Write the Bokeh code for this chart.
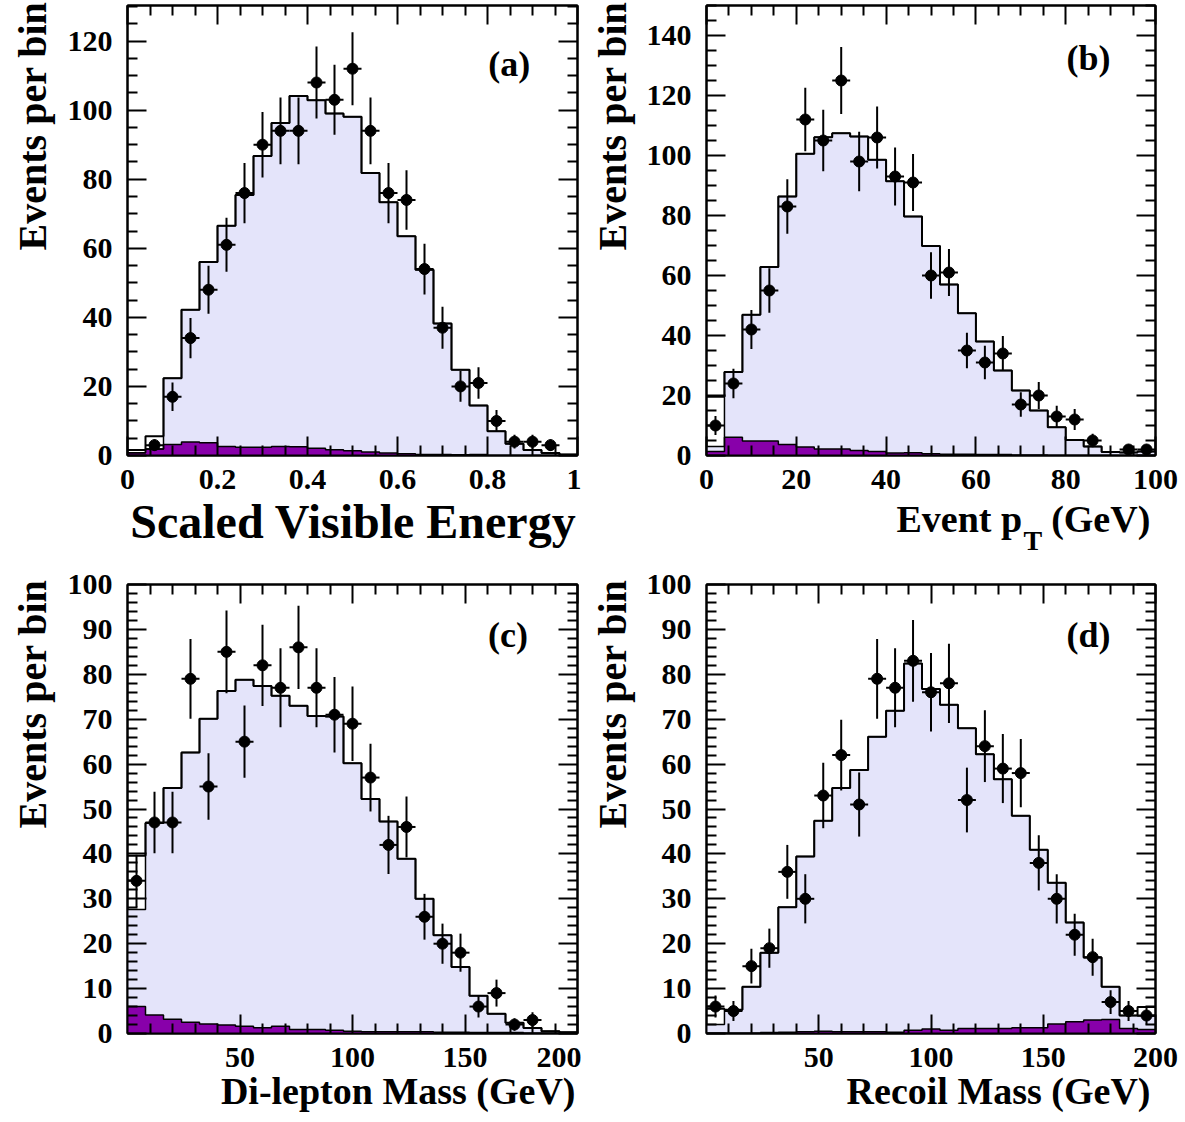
import numpy as np
from bokeh.plotting import figure
from bokeh.layouts import column, row
from bokeh.models import FixedTicker, LinearAxis, Label, CustomJSTickFormatter, Range1d, Title
from bokeh.embed import file_html
from bokeh.resources import INLINE

# ---------------- data (25 bins per panel) ----------------
# (a) Scaled visible energy, 0..1
a_data = [0, 3, 17, 34, 48, 61, 76, 90, 94, 94, 108, 103, 112, 94, 76, 74, 54, 37, 20, 21, 10, 4, 4, 3, 0]
a_mc_total = [1.6, 5.6, 22.4, 42.2, 56.0, 66.5, 75.4, 86.7, 96.3, 104.1, 102.9, 99.0, 98.1, 81.8, 73.3,
              63.5, 53.8, 38.2, 24.8, 14.5, 7.0, 3.4, 1.6, 0.7, 0.3]
a_mc_other = [0.8, 3.7, 0, 0, 0, 0, 0, 0, 0, 0, 0, 0, 0, 0, 0, 0, 0, 0, 0, 0, 0, 0, 0, 0, 0]
a_bkg = [0.8, 1.9, 3.2, 3.9, 3.7, 2.6, 2.4, 2.4, 2.6, 2.5, 2.1, 1.7, 1.4, 1.0, 0.7, 0.5, 0.3, 0.3, 0.2,
         0.3, 0.1, 0.05, 0.05, 0.05, 0.05]

# (b) Event pT, 0..100 GeV
b_data = [10, 24, 42, 55, 83, 112, 105, 125, 98, 106, 93, 91, 60, 61, 35, 31, 34, 17, 20, 13, 12, 5, 0, 2, 2]
b_mc_total = [19.6, 27.8, 46.9, 62.8, 86.3, 100.6, 106.1, 107.4, 106.3, 98.6, 91.4, 79.7, 69.8, 57.0, 47.4,
              38.0, 28.3, 21.7, 15.0, 9.4, 5.2, 3.0, 1.2, 1.0, 1.3]
b_mc_other = [16.6, 0, 0, 0, 0, 0, 0, 0, 0, 0, 0, 0, 0, 0, 0, 0, 0, 0, 0, 0, 0, 0, 0, 0, 0]
b_bkg = [1.3, 6.1, 4.8, 4.8, 3.7, 2.8, 2.2, 2.2, 1.7, 1.3, 0.8, 0.9, 0.6, 0.4, 0.4, 0.3, 0.3, 0.2, 0.2,
         0.1, 0.1, 0.1, 0.1, 0.1, 0.1]

# (c) Di-lepton mass, 0..200 GeV
c_data = [34, 47, 47, 79, 55, 85, 65, 82, 77, 86, 77, 71, 69, 57, 42, 46, 26, 20, 18, 6, 9, 2, 3, 0, 0]
c_mc_total = [39.6, 46.9, 54.7, 62.6, 70.1, 76.3, 78.8, 77.4, 75.2, 73.0, 70.7, 70.6, 60.2, 52.2, 47.2,
              38.9, 30.0, 21.9, 14.8, 8.4, 4.4, 2.4, 1.2, 0.5, 0.3]
c_mc_other = [12.0, 0, 0, 0, 0, 0, 0, 0, 0, 0, 0, 0, 0, 0, 0, 0, 0, 0, 0, 0, 0, 0, 0, 0, 0]
c_bkg = [6.0, 4.1, 3.2, 2.5, 2.1, 1.9, 1.6, 1.3, 1.6, 0.9, 0.9, 0.7, 0.5, 0.4, 0.4, 0.4, 0.4, 0.3, 0.3,
         0.2, 0.2, 0.2, 0.1, 0.1, 0.1]

# (d) Recoil mass, 0..200 GeV
d_data = [6, 5, 15, 19, 36, 30, 53, 62, 51, 79, 77, 83, 76, 78, 52, 64, 59, 58, 38, 30, 22, 17, 7, 5, 4]
d_mc_total = [5.5, 5.3, 10.4, 18.0, 28.1, 39.4, 47.4, 54.7, 58.7, 66.1, 71.9, 82.4, 76.7, 73.2, 68.0,
              62.2, 56.6, 48.5, 40.9, 33.6, 24.7, 16.9, 10.4, 4.0, 5.9]
d_mc_other = [3.5, 0, 0, 0, 0, 0, 0, 0, 0, 0, 0, 0, 0, 0, 0, 0, 0, 0, 0, 0, 0, 0, 0, 0, 2.0]
d_bkg = [0.1, 0.1, 0.1, 0.2, 0.3, 0.4, 0.5, 0.4, 0.4, 0.4, 0.3, 0.7, 1.0, 0.7, 1.1, 1.1, 1.1, 1.3, 1.3,
         2.1, 2.6, 3.0, 3.1, 1.1, 0.9]

# ---------------- style ----------------
LIGHT = "#e4e4fa"
PURPLE = "#8800aa"
FONT = "Liberation Serif"
TICK_SIZE = "30px"


def frange(start, stop, step):
    n = int(round((stop - start) / step))
    return [round(start + i * step, 6) for i in range(n + 1)]


def style_ticks(ax):
    ax.major_tick_in = 19
    ax.major_tick_out = 0
    ax.minor_tick_in = 10
    ax.minor_tick_out = 0
    ax.major_tick_line_width = 2
    ax.minor_tick_line_width = 2
    ax.major_tick_line_color = "black"
    ax.minor_tick_line_color = "black"
    ax.axis_line_width = 2
    ax.axis_line_color = "black"


def make_panel(lo, hi, ymax, xmaj, xmin, ymaj, ymin, data, total, other, bkg,
               size, borders, ytitle_standoff, ytitle_offset, xfmt=None):
    w, h = size
    bl, br, bt, bb = borders
    p = figure(width=w, height=h, x_range=Range1d(lo, hi), y_range=Range1d(0, ymax),
               output_backend="svg", toolbar_location=None,
               min_border_left=bl, min_border_right=br, min_border_top=bt, min_border_bottom=bb)
    p.background_fill_color = "white"
    p.border_fill_color = "white"
    p.outline_line_color = "black"
    p.outline_line_width = 2
    p.xgrid.visible = False
    p.ygrid.visible = False

    edges = np.linspace(lo, hi, len(data) + 1)
    left, right = edges[:-1], edges[1:]
    centers = 0.5 * (left + right)
    total = np.array(total, float)
    other = np.array(other, float)
    bkg = np.array(bkg, float)
    main_top = total - other
    zeros = np.zeros(len(edges))

    p.varea_step(x=edges, y1=zeros, y2=np.append(main_top, main_top[-1]), step_mode="after",
                 fill_color=LIGHT)
    p.varea_step(x=edges, y1=zeros, y2=np.append(bkg, bkg[-1]), step_mode="after", fill_color=PURPLE)
    p.step(x=edges, y=np.append(bkg, bkg[-1]), mode="after", line_color="black", line_width=1.5)
    p.step(x=edges, y=np.append(main_top, main_top[-1]), mode="after", line_color="black", line_width=1.5)
    p.step(x=edges, y=np.append(total, total[-1]), mode="after", line_color="black", line_width=2)

    d = np.array(data, float)
    m = d > 0
    err = np.sqrt(d[m])
    p.segment(x0=centers[m], y0=d[m] - err, x1=centers[m], y1=d[m] + err, line_color="black", line_width=2)
    p.segment(x0=left[m], y0=d[m], x1=right[m], y1=d[m], line_color="black", line_width=2)
    p.scatter(x=centers[m], y=d[m], size=11, marker="circle", fill_color="black", line_color="black")

    xt = FixedTicker(ticks=xmaj, minor_ticks=xmin)
    yt = FixedTicker(ticks=ymaj, minor_ticks=ymin)
    xax = p.xaxis[0]
    yax = p.yaxis[0]
    xax.ticker = xt
    yax.ticker = yt
    if xfmt is not None:
        xax.formatter = xfmt
    for ax in (xax, yax):
        style_ticks(ax)
        ax.major_label_text_font = FONT
        ax.major_label_text_font_style = "bold"
        ax.major_label_text_font_size = TICK_SIZE
        ax.major_label_text_color = "black"
    xax.major_label_standoff = 14
    yax.major_label_standoff = 15

    top = LinearAxis(ticker=xt, formatter=CustomJSTickFormatter(code="return ''"),
                     major_label_text_font_size="0px", major_label_standoff=0)
    rgt = LinearAxis(ticker=yt, formatter=CustomJSTickFormatter(code="return ''"),
                     major_label_text_font_size="0px", major_label_standoff=0)
    style_ticks(top)
    style_ticks(rgt)
    p.add_layout(top, "above")
    p.add_layout(rgt, "right")

    p.add_layout(Title(text="Events per bin", align="right", offset=ytitle_offset, standoff=ytitle_standoff,
                       vertical_align="top",
                       text_font=FONT, text_font_style="bold", text_font_size="40px",
                       text_color="black"), "left")
    return p


def tag(p, x, y, txt):
    p.add_layout(Label(x=x, y=y, text=txt, text_align="right", text_baseline="middle", text_font=FONT,
                       text_font_style="bold", text_font_size="36px", text_color="black"))


def xtitle(p, txt, standoff, size="38px", offset=0):
    p.add_layout(Title(text=txt, align="right", offset=offset, standoff=standoff,
                       text_font=FONT, text_font_style="bold", text_font_size=size,
                       text_color="black"), "below")


def text_axis(p, positions, texts, size, standoff):
    ax = LinearAxis(ticker=FixedTicker(ticks=positions),
                    major_label_overrides=dict(zip(positions, texts)),
                    major_label_standoff=standoff,
                    major_label_text_font=FONT, major_label_text_font_style="bold",
                    major_label_text_font_size=size, major_label_text_color="black",
                    axis_line_color=None, major_tick_line_color=None, minor_tick_line_color=None,
                    major_tick_in=0, major_tick_out=0, minor_tick_in=0, minor_tick_out=0)
    p.add_layout(ax, "below")


fmt_a = CustomJSTickFormatter(code="return Number(tick.toFixed(2)).toString();")

LEFT_SIZE_TOP = (581, 561)
RIGHT_SIZE_TOP = (604, 561)

pa = make_panel(0, 1, 130.3, frange(0, 1, 0.2), [v for v in frange(0, 1, 0.05) if round(v / 0.2, 6) % 1],
                frange(0, 120, 20), [v for v in range(0, 131, 5) if v % 20],
                a_data, a_mc_total, a_mc_other, a_bkg, LEFT_SIZE_TOP, (127, 4, 5, 106), 16, -4, xfmt=fmt_a)
pb = make_panel(0, 100, 150, frange(0, 100, 20), [v for v in range(0, 101, 5) if v % 20],
                frange(0, 140, 20), [v for v in range(0, 151, 5) if v % 20],
                b_data, b_mc_total, b_mc_other, b_bkg, RIGHT_SIZE_TOP, (125, 30, 5, 106), 14, -4)
pc = make_panel(0, 200, 100, [50, 100, 150, 200], [v for v in range(10, 200, 10) if v % 50],
                frange(0, 100, 10), [v for v in range(0, 100, 2) if v % 10],
                c_data, c_mc_total, c_mc_other, c_bkg, LEFT_SIZE_TOP, (127, 4, 23, 89), 16, -5)
pd_ = make_panel(0, 200, 100, [50, 100, 150, 200], [v for v in range(10, 200, 10) if v % 50],
                 frange(0, 100, 10), [v for v in range(0, 100, 2) if v % 10],
                 d_data, d_mc_total, d_mc_other, d_bkg, RIGHT_SIZE_TOP, (125, 30, 23, 89), 14, -5)

tag(pa, 0.895, 113.3, "(a)")
tag(pb, 90.0, 132.5, "(b)")
tag(pc, 178.0, 88.7, "(c)")
tag(pd_, 180.0, 88.7, "(d)")

xtitle(pa, "Scaled Visible Energy", 2, size="48px", offset=1)
# Event p_T (GeV): title parts placed along the x scale, subscript T lower
text_axis(pb, [56.3, 87.8], ["Event p", "(GeV)"], "38px", 6)
text_axis(pb, [72.7], ["T"], "28px", -18)
xtitle(pc, "Di-lepton Mass (GeV)", -4, offset=2)
xtitle(pd_, "Recoil Mass (GeV)", -4, offset=5)

layout = column(row(pa, pb), row(pc, pd_))
open("out.html", "w").write(file_html(layout, INLINE))
